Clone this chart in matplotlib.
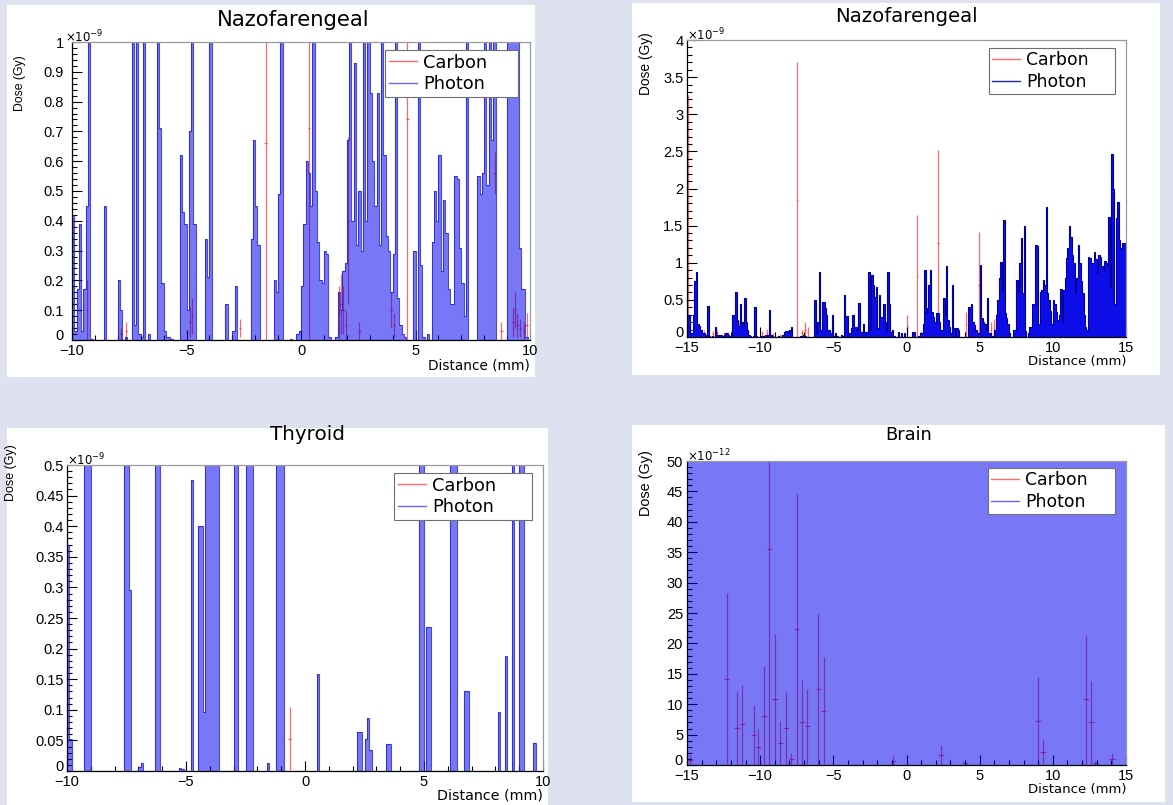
import numpy as np
import matplotlib
matplotlib.use("Agg")
import matplotlib.pyplot as plt
from matplotlib.lines import Line2D
from matplotlib.patches import Rectangle
from matplotlib.ticker import MultipleLocator, FuncFormatter

# ---------------- Nazofarengeal, -10..10 mm (dose in 1e-9 Gy, 0.1 mm bins) ----------------
naso10_photon = [
    0.42, 0.03, 0.17, 0.39, 0.03, 0.17, 0.45, 1.2, 0.005, 0, 0, 0, 0, 0, 0.45, 0, 0, 0, 0, 0,
    0.2, 0.1, 0, 0.01, 0, 0, 1.2, 0.05, 1.2, 0.02, 0.01, 1.2, 0, 0.02, 0, 0, 0, 1.2, 0.71, 0.19,
    0.03, 0.01, 0.01, 0.005, 0, 0, 0, 0.62, 0.43, 0.39, 0.1, 0.7, 1.2, 0.39, 0, 0, 0, 0, 0.34, 0.21,
    1.2, 0, 0, 0, 0, 0, 0, 0.12, 0, 0, 0.03, 0.18, 0, 0, 0, 0, 0, 0, 0.34, 0.67,
    0.45, 0.32, 0, 0, 0, 0, 0, 0, 0.2, 0.16, 0.49, 1.2, 0, 0, 0, 0.005, 0, 0, 0.02, 0.03,
    0.18, 0.39, 0.6, 0.56, 0.45, 1.2, 0.5, 0.33, 0.2, 0.19, 0.3, 0.29, 0.01, 0, 0, 0.01, 0.16, 0.1, 0.23, 0.26,
    0.67, 1.2, 0.4, 0.93, 0.32, 0.5, 0.3, 1.2, 0.4, 1.2, 0.83, 0.6, 0.45, 0.83, 0.32, 1.2, 0.62, 0.35, 0.3, 0.16,
    0.29, 1.2, 0.14, 0.05, 0.02, 0.01, 0, 0, 0, 0.3, 0, 1.2, 0.25, 0.01, 0, 0.02, 0, 0.33, 0.5, 0.4,
    0.62, 0.23, 0.47, 0.36, 0.17, 0.12, 0.12, 0.55, 0.54, 0.31, 0.19, 0.08, 1.2, 0, 0, 0, 0, 0.55, 0.49, 0.56,
    1.2, 0.52, 1.2, 0.67, 1.2, 0, 0, 0, 0, 0, 1.2, 1.2, 1.2, 1.2, 1.2, 0.31, 0.17, 0.17, 0.01, 0,
]
naso10_carbon_x = [-9.35, -7.85, -7.65, -4.85, -4.75, -2.65, -1.55, 0.35, 1.65, 1.75, 1.85, 1.95, 2.05,
                   2.55, 3.95, 4.05, 4.65, 8.45, 8.75, 9.25, 9.35, 9.45, 9.55, 9.75, 9.85]
naso10_carbon = [0.1, 0.02, 0.03, 0.06, 0.08, 0.04, 0.66, 0.71, 0.09, 0.12, 0.1, 0.05, 0.4,
                 0.03, 0.1, 0.05, 0.74, 0.56, 0.03, 0.06, 0.1, 0.05, 0.04, 0.03, 0.05]
naso10_carbon_err = [0.1, 0.02, 0.03, 0.05, 0.06, 0.03, 0.66, 0.71, 0.09, 0.1, 0.08, 0.05, 0.28,
                     0.03, 0.06, 0.04, 0.74, 0.07, 0.03, 0.05, 0.06, 0.04, 0.03, 0.03, 0.04]

# ---------------- Nazofarengeal, -15..15 mm (dose in 1e-9 Gy, 0.1 mm bins) ----------------
naso15_photon = [
    0.3, 0.3, 0.05, 0.05, 0.3, 0.75, 0.88, 0.18, 0.15, 0.1, 0.05, 0.05, 0.03, 0, 0.42, 0.02, 0, 0.02, 0, 0.14,
    0.03, 0.02, 0.03, 0.03, 0.02, 0.03, 0.05, 0.05, 0.03, 0.02, 0.03, 0.3, 0.3, 0.6, 0.23, 0.15, 0.44, 0.2, 0.15, 0.52,
    0.2, 0.1, 0.03, 0.02, 0, 0.02, 0.4, 0.02, 0, 0, 0.02, 0, 0.02, 0.03, 0.02, 0.03, 0.36, 0.03, 0.02, 0,
    0, 0, 0.02, 0, 0, 0.03, 0.07, 0.08, 0.08, 0.07, 0.1, 0.13, 0, 0, 0, 0, 0, 0.01, 0.02, 0.03,
    0.02, 0, 0, 0, 0, 0, 0, 0.5, 0.05, 0.2, 0.87, 0.1, 0.47, 0.47, 0.39, 0.3, 0.1, 0.1, 0.05, 0.3,
    0.02, 0.05, 0.02, 0, 0, 0.03, 0.02, 0.56, 0.28, 0.28, 0.02, 0.05, 0.12, 0.3, 0.12, 0.13, 0.1, 0.46, 0.07, 0.07,
    0.18, 0.07, 0.07, 0.05, 0.88, 0.1, 0.84, 0.7, 0.54, 0.68, 0.12, 0.56, 0.27, 0.25, 0.45, 0.2, 0.08, 0.88, 0.45, 0.07,
    0.1, 0.02, 0, 0, 0.07, 0, 0.05, 0, 0.05, 0, 0, 0, 0, 0, 0.07, 0.07, 0, 0, 0.02, 0.05,
    0.05, 0.18, 0.9, 0.32, 0.39, 0.7, 0.9, 0.34, 0.27, 0.2, 0.32, 0.32, 0.2, 0.1, 0.1, 0.52, 0.3, 0.95, 0.23, 0.14,
    0.05, 0.7, 0.12, 0.02, 0.12, 0.1, 0, 0, 0, 0, 0, 0, 0.41, 0.41, 0.45, 0.2, 0.16, 0.1, 0.05, 0.05,
    0.97, 0.25, 0.2, 0.18, 0.1, 0.52, 0.05, 0.05, 0.02, 0.02, 0.1, 0.3, 0.5, 0.8, 1.01, 0.63, 1.58, 0.32, 0.25, 0.18,
    0.05, 0, 0, 0.1, 0.1, 0.77, 0.6, 1.0, 1.33, 0.59, 1.5, 0.08, 0, 0.05, 0.14, 0.14, 0.45, 0.45, 1.24, 1.22,
    0.18, 0.61, 0.63, 0.77, 0.7, 1.75, 0.59, 0.5, 0.35, 0.18, 0.5, 0.45, 0.34, 0.23, 0.3, 0.65, 0.2, 0.63, 0.8, 1.06,
    1.2, 1.5, 1.35, 1.1, 1.0, 0.59, 0.8, 1.24, 0.99, 0.75, 0.59, 0.3, 0.14, 0.1, 1.08, 1.06, 1.0, 0.99, 1.15, 1.05,
    0.86, 1.1, 1.08, 0.95, 0.9, 1.03, 1.0, 0.95, 1.62, 0.68, 2.47, 2.0, 0.45, 1.6, 1.82, 1.3, 1.2, 1.26, 1.27, 1.25,
]
naso15_carbon_x = [-14.95, -13.85, -13.25, -12.95, -12.45, -11.95, -11.45, -11.25, -10.85, -10.35, -9.85,
                   -9.55, -9.15, -8.65, -7.45, -7.15, -6.95, -6.75, -5.45, -4.15, -3.15, -2.35, -1.45,
                   0.05, 0.75, 2.15, 4.05, 4.95, 5.75, 5.95]
naso15_carbon = [1.63, 0.05, 0.04, 0.05, 0.04, 0.08, 0.12, 0.1, 0.05, 0.03, 0.04, 0.06, 0.03, 0.02,
                 1.85, 0.05, 0.1, 0.07, 0.05, 0.04, 0.06, 0.05, 0.04, 0.15, 0.82, 1.26, 0.17, 0.7, 0.1, 0.12]
naso15_carbon_err = [1.63, 0.04, 0.04, 0.05, 0.03, 0.07, 0.1, 0.1, 0.05, 0.03, 0.04, 0.05, 0.03, 0.02,
                     1.85, 0.05, 0.1, 0.07, 0.05, 0.04, 0.05, 0.05, 0.04, 0.15, 0.82, 1.26, 0.17, 0.72, 0.1, 0.12]

# ---------------- Thyroid, -10..10 mm (dose in 1e-9 Gy, 0.1 mm bins) ----------------
thyroid_photon = [
    0.37, 0.052, 0, 0, 0, 0, 0, 0.6, 0.6, 0.6, 0, 0, 0, 0, 0, 0, 0, 0, 0, 0,
    0, 0, 0, 0, 0.6, 0.6, 0.295, 0, 0, 0, 0.006, 0.013, 0, 0, 0, 0, 0, 0.6, 0.6, 0,
    0, 0, 0, 0, 0, 0, 0, 0.005, 0.003, 0, 0, 0, 0.475, 0, 0, 0.4, 0.4, 0.097, 0.6, 0.6,
    0.6, 0.6, 0.6, 0.6, 0, 0, 0, 0, 0, 0, 0.6, 0.6, 0, 0, 0, 0.6, 0.6, 0.6, 0, 0,
    0, 0, 0, 0, 0.013, 0, 0, 0, 0.6, 0.6, 0.6, 0, 0, 0, 0, 0, 0, 0, 0, 0,
    0, 0, 0, 0, 0, 0.158, 0, 0, 0, 0, 0, 0, 0, 0, 0, 0, 0, 0, 0, 0,
    0, 0, 0.063, 0.063, 0, 0.053, 0.086, 0.035, 0, 0, 0, 0, 0, 0, 0.044, 0.044, 0, 0, 0, 0,
    0, 0, 0, 0, 0, 0, 0, 0, 0.6, 0.6, 0, 0.236, 0.236, 0, 0, 0, 0, 0, 0, 0,
    0, 0.6, 0.6, 0.6, 0, 0, 0, 0.131, 0.131, 0, 0, 0, 0, 0, 0, 0, 0, 0, 0, 0,
    0, 0.096, 0, 0, 0.188, 0, 0, 0.6, 0, 0, 0.6, 0.6, 0, 0, 0, 0, 0.045, 0, 0, 0,
]
thyroid_carbon_x = [-0.65]
thyroid_carbon = [0.053]
thyroid_carbon_err = [0.051]

# ---------------- Brain, -15..15 mm (dose in 1e-12 Gy) ----------------
# photon dose is above the 50e-12 axis limit in every 1 mm bin
brain_photon = [412, 388, 455, 497, 362, 430, 518, 476, 401, 367, 445, 502, 390, 356, 423,
                468, 511, 437, 380, 349, 402, 458, 520, 471, 395, 366, 414, 489, 452, 408]
brain_carbon_x = [-14.8, -12.29, -11.58, -11.22, -10.44, -10.12, -9.74, -9.37, -8.99, -8.62, -8.25,
                  -7.87, -7.5, -7.14, -6.78, -6.03, -5.66, -0.9, 2.36, 4.0, 8.97, 9.33, 12.27, 12.61,
                  12.9, 14.03]
brain_carbon = [0.8, 14.2, 6.1, 6.7, 4.9, 2.95, 8.1, 35.5, 10.8, 3.6, 6.1, 1.0, 22.3, 7.0, 6.35,
                12.5, 8.9, 0.7, 1.7, 0.3, 7.2, 2.2, 10.8, 7.0, 0.3, 1.0]
brain_carbon_err = [0.8, 14.1, 6.1, 6.5, 5.0, 2.95, 8.2, 35.5, 10.7, 3.6, 6.1, 1.0, 22.3, 7.0, 6.2,
                    12.4, 8.8, 0.7, 1.65, 0.3, 7.2, 2.0, 10.6, 6.8, 0.3, 1.0]

# ---------------- figure layout ----------------
W, H = 1173, 805
fig = plt.figure(figsize=(W / 100, H / 100), dpi=100)
fig.patch.set_facecolor('#dde1f0')

TICK_FONT = 'Liberation Sans'
TEXT_FONT = 'DejaVu Sans'
CARBON = (1.0, 0.0, 0.0, 0.58)


def fig_box(x0, y0, x1, y1):
    return [x0 / W, 1 - y1 / H, (x1 - x0) / W, (y1 - y0) / H]


def white_pad(x0, y0, x1, y1):
    fig.add_artist(Rectangle((x0 / W, 1 - y1 / H), (x1 - x0) / W, (y1 - y0) / H,
                             transform=fig.transFigure, facecolor='white',
                             edgecolor='none', zorder=-5))


def tick_fmt(v, pos):
    return f'{round(v, 6):g}'.replace('-', '\u2212')


def panel(frame, pad_box, xlim, ylim, ymaj, ymin, photon, cx, cv, ce, half_bin,
          exponent, title, title_pt, title_px, legend_px, legend_pt, ylabel_px, ylabel_pt,
          xlabel_gap, xlabel_pt, xtick_pad, ytick_pad, exp_dx, style):
    white_pad(*pad_box)
    fx0, fy0, fx1, fy1 = frame
    fw, fh = fx1 - fx0, fy1 - fy0
    ax = fig.add_axes(fig_box(*frame))
    ax.set_facecolor('white')
    ax.set_xlim(*xlim)
    ax.set_ylim(*ylim)

    # carbon: bin value with symmetric error bar
    ax.errorbar(cx, cv, xerr=half_bin, yerr=ce, fmt='none', ecolor=CARBON,
                elinewidth=0.9, capsize=0, zorder=1.5)

    # photon: filled step histogram on top
    edges = np.linspace(xlim[0], xlim[1], len(photon) + 1)
    ax.stairs(photon, edges, fill=True, color=style['fill'], alpha=style['alpha'],
              linewidth=0, zorder=2)
    ax.stairs(photon, edges, color=style['edge'], linewidth=style['lw'], zorder=2.1)

    # axes cosmetics
    for s in ('left', 'bottom'):
        ax.spines[s].set_color('black')
        ax.spines[s].set_linewidth(0.9)
    for s in ('top', 'right'):
        ax.spines[s].set_color('#9a9a9a')
        ax.spines[s].set_linewidth(0.9)
    ax.xaxis.set_major_locator(MultipleLocator(5))
    ax.xaxis.set_minor_locator(MultipleLocator(1))
    ax.yaxis.set_major_locator(MultipleLocator(ymaj))
    ax.yaxis.set_minor_locator(MultipleLocator(ymin))
    ax.xaxis.set_major_formatter(FuncFormatter(tick_fmt))
    ax.yaxis.set_major_formatter(FuncFormatter(tick_fmt))
    ax.tick_params(which='both', direction='in', top=False, right=False, width=0.8, color='black')
    ax.tick_params(which='major', length=7.0)
    ax.tick_params(which='minor', length=3.5)
    ax.tick_params(axis='x', which='major', pad=xtick_pad)
    ax.tick_params(axis='y', which='major', pad=ytick_pad)
    for lab in ax.get_xticklabels() + ax.get_yticklabels():
        lab.set_fontfamily(TICK_FONT)
        lab.set_fontsize(10.5)

    # exponent of the dose axis
    ax.text(exp_dx / fw, 1.0, exponent, transform=ax.transAxes, ha='left', va='baseline',
            fontsize=8.5, family=TEXT_FONT)

    # title
    tx, ty = title_px
    ax.set_title(title, fontsize=title_pt, family=TEXT_FONT, x=(tx - fx0) / fw,
                 y=1 + (fy0 - ty) / fh, pad=0, ha='center', va='baseline')

    # axis titles
    ax.set_xlabel('Distance (mm)', loc='right', fontsize=xlabel_pt, family=TEXT_FONT)
    ax.xaxis.set_label_coords(1.0, -xlabel_gap / fh)
    ax.set_ylabel('Dose (Gy)', loc='top', fontsize=ylabel_pt, family=TICK_FONT)
    ly_x, ly_top = ylabel_px
    ax.yaxis.set_label_coords((ly_x - fx0) / fw, (fy1 - ly_top) / fh)

    # legend
    lx0, ly0, lx1, ly1 = legend_px
    handles = [Line2D([], [], color=CARBON, lw=1.0), Line2D([], [], color=style['legend'], lw=1.0)]
    leg = ax.legend(handles, ['Carbon', 'Photon'], loc='upper left',
                    bbox_to_anchor=((lx0 - fx0) / fw, (fy1 - ly1) / fh, (lx1 - lx0) / fw, (ly1 - ly0) / fh),
                    mode='expand', borderaxespad=0, fancybox=False, framealpha=1,
                    edgecolor='#6f6f6f', facecolor='white', prop={'family': TEXT_FONT, 'size': legend_pt},
                    borderpad=0.2, labelspacing=0.2, handlelength=1.6, handletextpad=0.35)
    leg.get_frame().set_linewidth(0.8)
    leg.set_zorder(6)
    return ax


soft = dict(fill=(0.0, 0.0, 0.94), alpha=0.53, edge=(0.12, 0.12, 0.78, 0.8), lw=0.8, legend='#6a6ae6')
solid = dict(fill='#0d0de8', alpha=1.0, edge='#00009a', lw=0.8, legend='#2424b4')

axes = [
    panel((72, 42, 530, 340), (7, 5, 535, 377), (-10, 10), (0, 1), 0.1, 0.02,
          naso10_photon, naso10_carbon_x, naso10_carbon, naso10_carbon_err, 0.05,
          r'$\times10^{-9}$', 'Nazofarengeal', 15.2, (293, 26), (385, 50, 518, 98), 12.8,
          (26, 55), 8.8, 18, 9.8, 2.8, 6.0, -7, soft),
    panel((687, 40, 1126, 337), (632, 3, 1160, 375), (-15, 15), (0, 4), 0.5, 0.1,
          naso15_photon, naso15_carbon_x, naso15_carbon, naso15_carbon_err, 0.05,
          r'$\times10^{-9}$', 'Nazofarengeal', 14.2, (906, 22), (989, 48, 1115, 97), 12.4,
          (653, 32), 9.9, 18, 9.5, 3.0, 2.7, 0, solid),
    panel((67, 465, 543, 771), (7, 428, 548, 805), (-10, 10), (0, 0.5), 0.05, 0.01,
          thyroid_photon, thyroid_carbon_x, thyroid_carbon, thyroid_carbon_err, 0.05,
          r'$\times10^{-9}$', 'Thyroid', 14.3, (307, 440), (394, 473, 532, 522), 12.8,
          (17, 444), 9.0, 17, 10.3, 2.8, 2.3, 0, soft),
    panel((687, 461, 1126, 765), (632, 425, 1165, 802), (-15, 15), (0, 50), 5, 1,
          brain_photon, brain_carbon_x, brain_carbon, brain_carbon_err, 0.1875,
          r'$\times10^{-12}$', 'Brain', 12.8, (909, 440), (988, 468, 1115, 518), 12.4,
          (653, 450), 10.4, 18, 9.5, 2.8, 2.8, 0, soft),
]

# the zero of each dose axis rests on the axis line, clear of the distance labels
fig.canvas.draw()
for ax in axes:
    for tick in ax.yaxis.get_major_ticks():
        if abs(tick.get_loc()) < 1e-12:
            tick.label1.set_verticalalignment('baseline')

fig.savefig('out.png', dpi=100, facecolor=fig.get_facecolor())
